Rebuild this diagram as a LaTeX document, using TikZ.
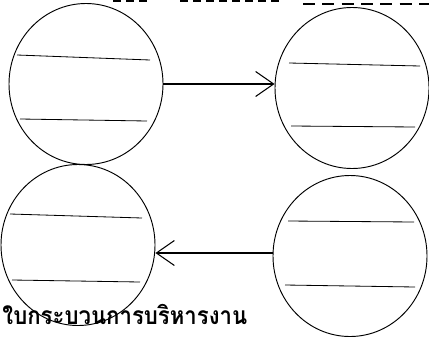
\documentclass[tikz,border=0pt]{standalone}
\usepackage{fontspec}
\newfontfamily\thaifont[Script=Thai]{Loma}
\usetikzlibrary{shapes.geometric,arrows.meta,positioning,calc}

\begin{document}
\begin{tikzpicture}[x=0.03cm, y=-0.03cm, line width=0.8pt,
        flow/.style={line width=0.9pt, -{Straight Barb[length=5.4mm,width=7.5mm,line width=0.9pt]}},
        stage/.style={ellipse, draw, minimum width=4.62cm, minimum height=4.83cm, inner sep=0pt},
        row/.style={line width=0.7pt},
        cutdash/.style={line width=1.2pt, dash pattern=on 0.36cm off 0.22cm}]
    \useasboundingbox (0,0) rectangle (429,337);

    % four stages
    \node [stage] (tl) at (86,84) {};
    \node [stage] (tr) at (352,88) {};
    \node [stage] (bl) at (78,245) {};
    \node [stage] (br) at (350,256) {};

    % rows inside the stages
    \draw [row] (17,55) -- (150,60);
    \draw [row] (20,119) -- (147,121);
    \draw [row] (289,63) -- (420,66);
    \draw [row] (291,126) -- (415,127);
    \draw [row] (10,214) -- (142,218);
    \draw [row] (12,280) -- (140,282);
    \draw [row] (288,221) -- (414,222);
    \draw [row] (285,285) -- (415,287);

    % flow
    \draw [flow] (tl.east) -- (tr.west |- tl.east);
    \draw [flow] (br.west |- 0,253) -- (bl.east |- 0,253);

    % cut-off marks at the top edge
    \draw [cutdash] (303,4) -- (429,4);
    \draw [line width=1pt, dash pattern=on 0.24cm off 0.15cm] (180,1) -- (280,1);
    \draw [line width=1pt, dash pattern=on 0.24cm off 0.15cm] (113,1) -- (150,1);

    \node [anchor=base west, inner sep=0pt, font=\thaifont\bfseries\fontsize{21}{23}\selectfont] (cap) at (2,324) {\scalebox{0.9}[1]{ใบกระบวนการบริหารงาน}};
\end{tikzpicture}
\end{document}
